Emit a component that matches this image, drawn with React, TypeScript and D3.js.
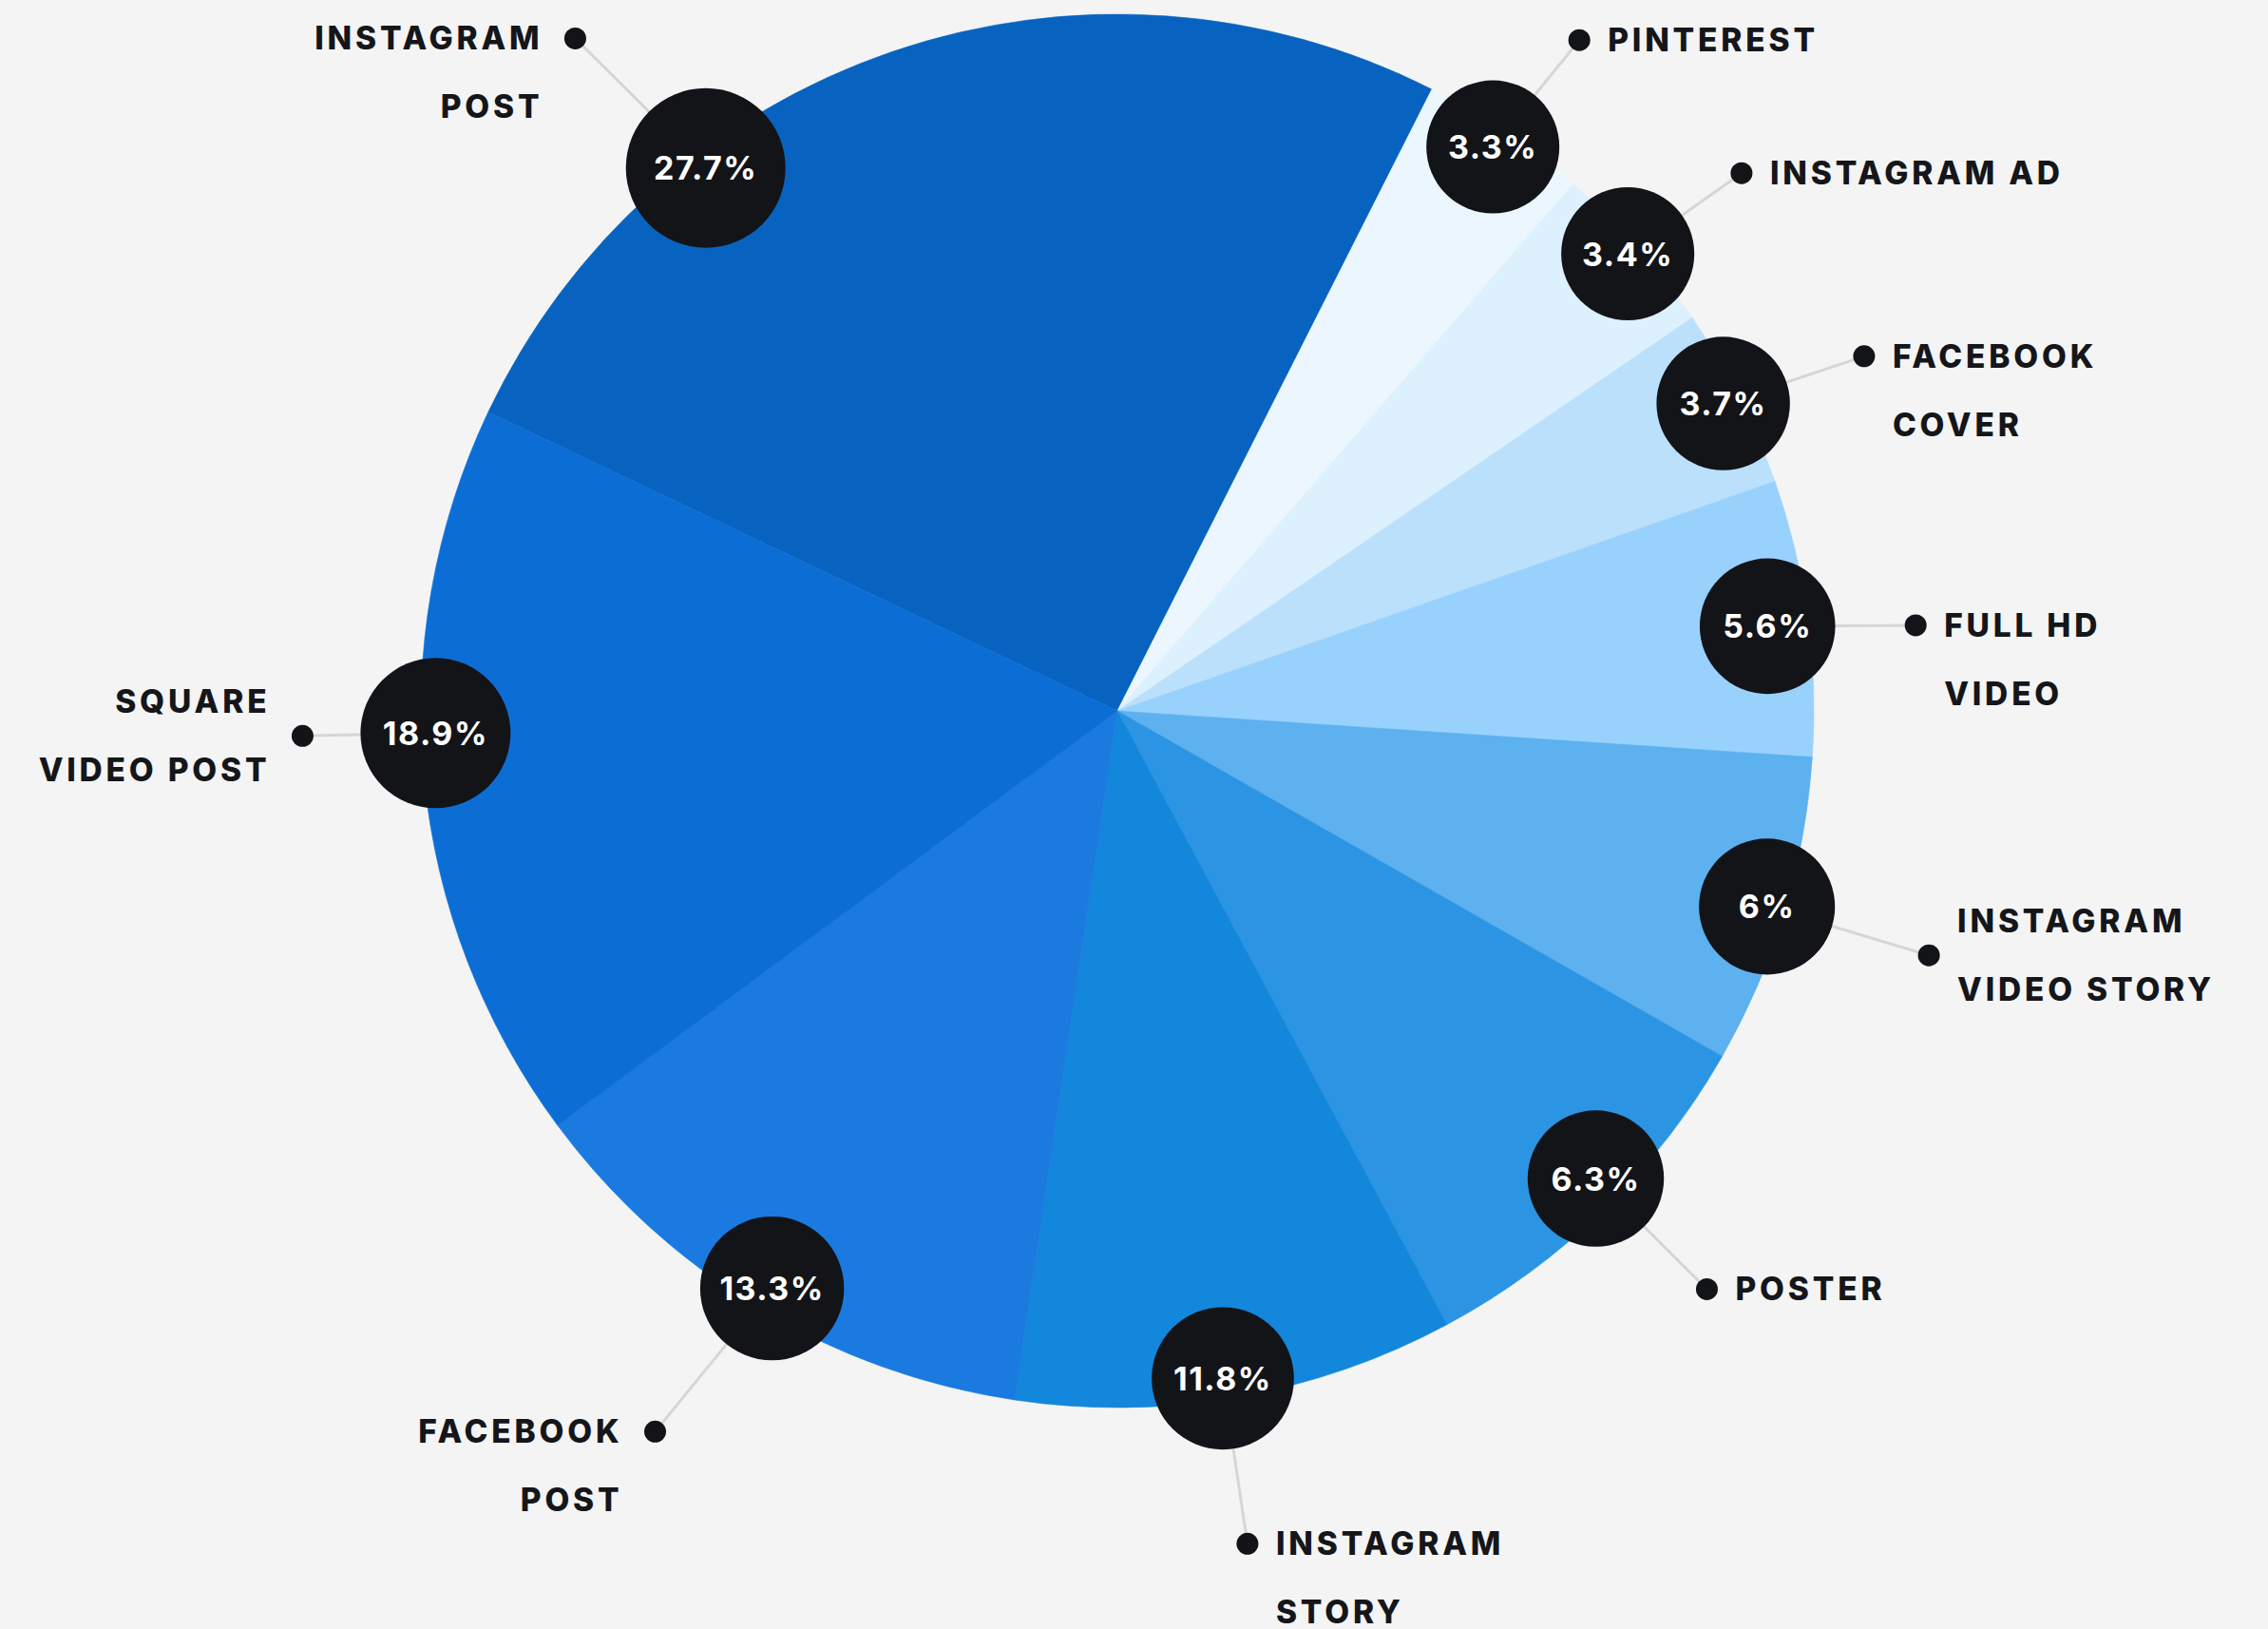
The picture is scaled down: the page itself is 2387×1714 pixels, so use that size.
import * as d3 from 'd3';
import { useMemo } from 'react';

// categories, clockwise from the big Instagram post slice
const categories = [
  'INSTAGRAM\nPOST',
  'PINTEREST',
  'INSTAGRAM AD',
  'FACEBOOK\nCOVER',
  'FULL HD\nVIDEO',
  'INSTAGRAM\nVIDEO STORY',
  'POSTER',
  'INSTAGRAM\nSTORY',
  'FACEBOOK\nPOST',
  'SQUARE\nVIDEO POST',
];

// percentages printed in the bubbles
const shares = [27.7, 3.3, 3.4, 3.7, 5.6, 6, 6.3, 11.8, 13.3, 18.9];

// share of the circle each slice really takes in the picture (percent)
const sliceShares = [25.4, 3.9, 4.1, 4.2, 6.4, 7.2, 8.9, 10.2, 12.5, 17.2];

const COLORS = [
  '#0863c0',
  '#ebf6fe',
  '#ddf0fd',
  '#bbe0fc',
  '#98d1fc',
  '#5db1ef',
  '#2b95e3',
  '#1287dc',
  '#1a7ae0',
  '#0c6ed5',
];

const WIDTH = 2387;
const HEIGHT = 1714;
const CENTER = { x: 1176, y: 748 };
const RADIUS = 733;
const START_ANGLE = (-64.6 * Math.PI) / 180;
const LINE_GAP = 72;
const DARK = '#131418';

// hand placement of the bubbles and dots (degrees / px from the pie centre)
// turn: bubble rotation from slice middle, dist: bubble distance,
// dot: dot distance, dotTurn: dot rotation from bubble angle
const LABEL_LAYOUT = [
  { turn: -18.3, dist: 717, dot: 909, dotTurn: -1.7 },
  { turn: -0.2, dist: 713, dot: 857, dotTurn: 0.9 },
  { turn: -0.1, dist: 721, dot: 867, dotTurn: 1.1 },
  { turn: -0.1, dist: 715, dot: 870, dotTurn: 1.5 },
  { turn: 0.3, dist: 690, dot: 845, dotTurn: 1.3 },
  { turn: 0, dist: 714, dot: 892, dotTurn: 0 },
  { turn: -1.4, dist: 704, dot: 869, dotTurn: 0.1 },
  { turn: 0.9, dist: 711, dot: 887, dotTurn: 0.1 },
  { turn: -0.1, dist: 708, dot: 901, dotTurn: 1.8 },
  { turn: 3.7, dist: 718, dot: 858, dotTurn: 0.1 },
];
// labels whose two lines sit around the dot instead of below it
const CENTERED_LABELS = new Set([5, 9]);

const fmt = (v: number) => `${v}%`;
const rad = (deg: number) => (deg * Math.PI) / 180;

const polar = (angle: number, r: number) => ({
  x: CENTER.x + r * Math.sin(angle),
  y: CENTER.y - r * Math.cos(angle),
});

export default function App() {
  const arcs = useMemo(() => {
    return d3
      .pie<number>()
      .sort(null)
      .value((d) => d)
      .startAngle(START_ANGLE)
      .endAngle(START_ANGLE + Math.PI * 2)(sliceShares);
  }, []);

  const arcGen = d3.arc<d3.PieArcDatum<number>>().innerRadius(0).outerRadius(RADIUS);

  const bubbleScale = d3.scaleLinear().domain([3.3, 27.7]).range([70, 84]);

  const slices = arcs.map((a, i) => (
    <path key={`s-${i}`} d={arcGen(a) || ''} fill={COLORS[i]} stroke={COLORS[i]} strokeWidth={0.6} />
  ));

  const labels = arcs.map((a, i) => {
    const lay = LABEL_LAYOUT[i];
    const mid = (a.startAngle + a.endAngle) / 2 + rad(lay.turn);
    const b = polar(mid, lay.dist);
    const dot = polar(mid + rad(lay.dotTurn), lay.dot);
    const r = bubbleScale(shares[i]);
    const left = dot.x < CENTER.x;
    const lines = categories[i].split('\n');
    const firstBaseline = CENTERED_LABELS.has(i) ? dot.y + 12 - LINE_GAP / 2 : dot.y + 12;
    const tx = left ? dot.x - 34 : dot.x + 30;
    return { i, b, dot, r, left, lines, firstBaseline, tx };
  });

  return (
    <svg
      width={WIDTH}
      height={HEIGHT}
      style={{ position: 'absolute', left: 0, top: 0, background: '#f4f4f4' }}
      fontFamily="Inter, 'Open Sans', sans-serif"
    >
      <rect width={WIDTH} height={HEIGHT} fill="#f4f4f4" />
      <g transform={`translate(${[CENTER.x, CENTER.y].join(',')})`}>{slices}</g>

      {labels.map((l) => (
        <line
          key={`l-${l.i}`}
          x1={l.dot.x}
          y1={l.dot.y}
          x2={l.b.x}
          y2={l.b.y}
          stroke="#d6d6d6"
          strokeWidth={3}
        />
      ))}

      {labels.map((l) => (
        <g key={`b-${l.i}`}>
          <circle cx={l.dot.x} cy={l.dot.y} r={11.5} fill={DARK} />
          <circle cx={l.b.x} cy={l.b.y} r={l.r} fill={DARK} />
          <text
            x={l.b.x}
            y={l.b.y + 12.5}
            textAnchor="middle"
            fill="#ffffff"
            fontSize={34}
            fontWeight={700}
            letterSpacing={1.5}
          >
            {fmt(shares[l.i])}
          </text>
          {l.lines.map((line, k) => (
            <text
              key={k}
              x={l.tx}
              y={l.firstBaseline + k * LINE_GAP}
              textAnchor={l.left ? 'end' : 'start'}
              fill="#15161a"
              fontSize={33.5}
              fontWeight={800}
              letterSpacing={3.8}
            >
              {line}
            </text>
          ))}
        </g>
      ))}
    </svg>
  );
}
